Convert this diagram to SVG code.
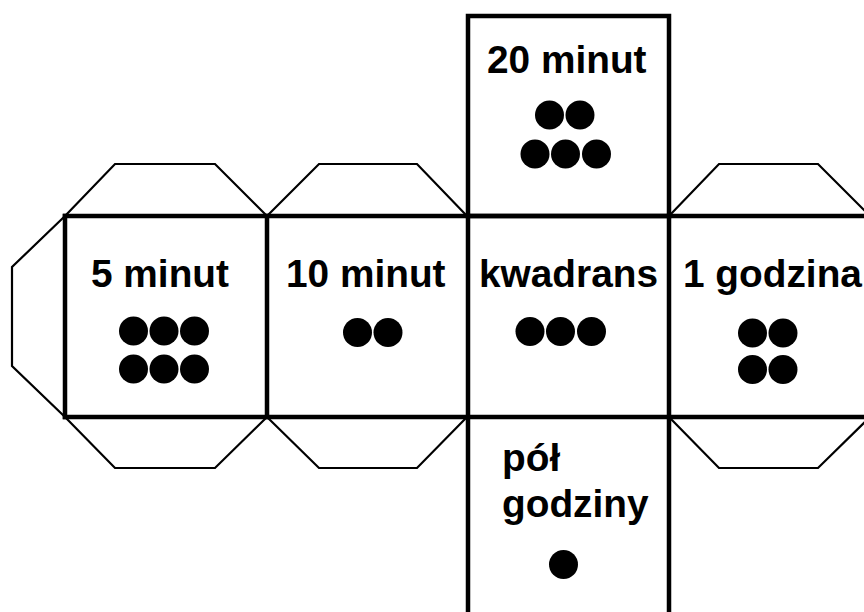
<svg xmlns="http://www.w3.org/2000/svg" width="864" height="612" viewBox="0 0 864 612">
<style>
.flap{fill:none;stroke:#000;stroke-width:2.2;stroke-linejoin:miter}
.edge{fill:none;stroke:#000;stroke-width:4.5;stroke-linecap:square}
.lbl{font-family:"Liberation Sans",Arial,sans-serif;font-weight:bold;font-size:38.8px;fill:#000}
.dot{fill:#000}
</style>
<rect width="864" height="612" fill="#fff"/>
<g id="flaps">
<polyline class="flap" points="65,216 115,164 215,164 267,216"/>
<polyline class="flap" points="65,216 12,267 12,366 65,417"/>
<polyline class="flap" points="65,417 115,468 215,468 267,417"/>
<polyline class="flap" points="267,216 319,164 417,164 467,216"/>
<polyline class="flap" points="267,417 319,468 417,468 467,417"/>
<polyline class="flap" points="669,216 719,164 818,164 870,216"/>
<polyline class="flap" points="669,417 719,468 818,468 870,417"/>
</g>
<g id="connectors">
<rect class="edge" x="468" y="16" width="201" height="200"/>
<line class="edge" x1="65" y1="216" x2="870" y2="216"/>
<line class="edge" x1="65" y1="417" x2="870" y2="417"/>
<line class="edge" x1="65" y1="216" x2="65" y2="417"/>
<line class="edge" x1="267" y1="216" x2="267" y2="417"/>
<line class="edge" x1="468" y1="216" x2="468" y2="620"/>
<line class="edge" x1="669" y1="216" x2="669" y2="620"/>
</g>
<g id="face-5min">
<text class="lbl" x="91" y="287">5 minut</text>
<circle class="dot" cx="133.5" cy="331" r="14.5"/>
<circle class="dot" cx="164" cy="331" r="14.5"/>
<circle class="dot" cx="194.5" cy="331" r="14.5"/>
<circle class="dot" cx="133.5" cy="369" r="14.5"/>
<circle class="dot" cx="164" cy="369" r="14.5"/>
<circle class="dot" cx="194.5" cy="369" r="14.5"/>
</g>
<g id="face-10min">
<text class="lbl" x="286" y="287">10 minut</text>
<circle class="dot" cx="357.5" cy="332.5" r="14.5"/>
<circle class="dot" cx="388" cy="332.5" r="14.5"/>
</g>
<g id="face-20min">
<text class="lbl" x="487" y="73">20 minut</text>
<circle class="dot" cx="549.5" cy="115" r="14.5"/>
<circle class="dot" cx="580" cy="115" r="14.5"/>
<circle class="dot" cx="535" cy="154" r="14.5"/>
<circle class="dot" cx="565.5" cy="154" r="14.5"/>
<circle class="dot" cx="596.5" cy="154" r="14.5"/>
</g>
<g id="face-kwadrans">
<text class="lbl" x="479" y="287">kwadrans</text>
<circle class="dot" cx="530" cy="331.5" r="14.5"/>
<circle class="dot" cx="560.5" cy="331.5" r="14.5"/>
<circle class="dot" cx="591.5" cy="331.5" r="14.5"/>
</g>
<g id="face-1godz">
<text class="lbl" x="683" y="287">1 godzina</text>
<circle class="dot" cx="752.5" cy="333" r="14.5"/>
<circle class="dot" cx="783" cy="333" r="14.5"/>
<circle class="dot" cx="752.5" cy="369.5" r="14.5"/>
<circle class="dot" cx="783" cy="369.5" r="14.5"/>
</g>
<g id="face-polgodz">
<text class="lbl" x="502" y="471">pół</text>
<text class="lbl" x="502" y="517">godziny</text>
<circle class="dot" cx="563.5" cy="564.5" r="14.5"/>
</g>
</svg>
